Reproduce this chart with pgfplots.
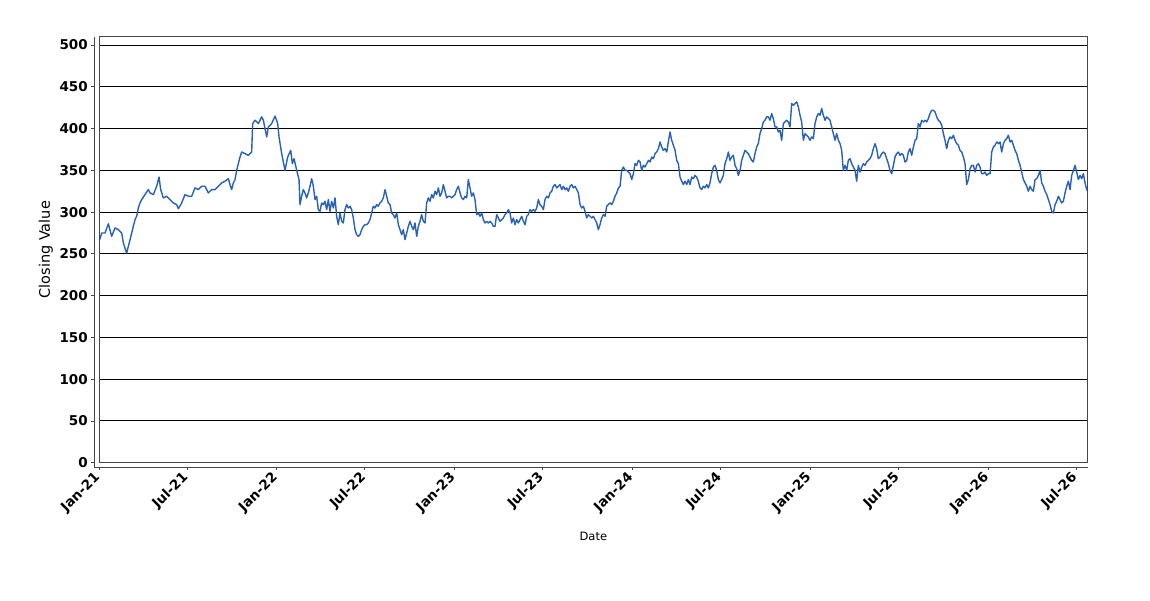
\documentclass[border=0pt]{standalone}
\usepackage{fontspec}
\setmainfont{DejaVu Sans}
\usepackage{pgfplots}
\pgfplotsset{compat=1.18}
\definecolor{series}{RGB}{40,98,182}
\definecolor{axisgray}{RGB}{70,70,70}
\begin{document}
\begin{tikzpicture}
\path[use as bounding box] (0,0) rectangle (1150pt,-600pt);
\begin{axis}[
  at={(99pt,-462.7pt)}, anchor=south west,
  width=988.7pt, height=426pt, scale only axis,
  xmin=0, xmax=2031, ymin=0, ymax=510,
  clip=false,
  axis x line*=bottom, axis y line*=left,
  axis x line shift=4.5pt, axis y line shift=4.7pt,
  axis line style={draw=axisgray, line width=0.8pt, -},
  tick align=outside, major tick length=3pt,
  tick style={draw=axisgray, line width=0.8pt},
  ytick={0,50,...,500},
  xtick={0,181,365,546,730,911,1095,1277,1461,1642,1826,2007},
  xticklabels={Jan-21,Jul-21,Jan-22,Jul-22,Jan-23,Jul-23,Jan-24,Jul-24,Jan-25,Jul-25,Jan-26,Jul-26},
  /pgf/number format/assume math mode=true,
  ticklabel style={font=\fontsize{13.5}{16}\selectfont\bfseries},
  xticklabel style={rotate=45, anchor=east, inner sep=1.5pt},
  xticklabel shift=4pt,
  ymajorgrids, grid style={black, line width=0.9pt},
  xlabel={Date},
  xlabel style={at={([yshift=-73.3pt]axis description cs:0.5,0)}, anchor=center, font=\fontsize{11.5}{13}\selectfont},
  ylabel={Closing Value},
  ylabel style={at={([xshift=-53pt]axis description cs:0,0.5)}, anchor=center, font=\fontsize{14.5}{16}\selectfont},
]
\addplot[series, line width=1.4pt, line join=round] coordinates {
(0,267) (2,268) (5.5,275) (12.3,275) (19.2,286) (26,271) (32.9,281) (39.7,279) (46.6,275) (50,263) (56.8,251) (60.3,259) (63.7,267) (70.5,283) (74,291) (77.4,295) (80.8,305) (84.2,311) (87.7,315) (94.5,321) (101.4,327) (104.8,323) (111.6,321) (118.5,331) (123.3,342) (126.7,327) (132.2,317) (139,319) (145.9,315) (152.7,311) (159.5,309) (163,304) (169.8,311) (176.7,321) (183.5,319) (190.4,319) (197.2,329) (204.1,327) (210.9,331) (217.8,331) (224.6,323) (231.5,327) (238.3,327) (245.2,331) (252,335) (258.9,337) (265.7,340) (269.1,333) (272.5,327) (276,335) (279.4,339) (282.8,350) (286.2,358) (289.7,366) (293.1,372) (300,370) (306.8,368) (313.6,372) (315.7,406) (320.5,410) (327.3,406) (334.2,414) (337.6,410) (344.5,390) (347.9,402) (354.7,406) (361.6,415) (367.1,406) (369.8,390) (375.3,370) (382.1,350) (387.6,366) (393.8,374) (397.2,358) (400.6,364) (406.1,350) (410.9,339)
(412.9,309) (416.3,319) (419.7,327) (423.1,323) (426.6,317) (430,323) (433.4,331) (436.8,340) (440.3,331) (443.7,315) (447.1,319) (450.5,303) (454,301) (457.4,311) (460.8,309) (464.2,313) (467.7,303) (471.1,315) (474.5,301) (477.9,313) (481.4,305) (484.8,317) (488.2,295) (491.6,285) (495.1,299) (498.5,289) (501.9,287) (505.3,303) (508.7,309) (512.2,305) (515.6,307) (519,303) (522.4,293) (525.9,279) (529.3,273) (532.7,271) (536.1,273) (539.6,279) (543,283) (546.4,285) (549.8,285) (553.3,287) (556.7,291) (560.1,299) (563.5,307) (567,305) (570.4,309) (573.8,307) (577.2,311) (580.6,313) (584.1,317) (587.5,327) (590.9,319) (594.3,311) (597.8,309) (601.2,299) (604.6,297) (608,293) (611.5,299) (614.9,285) (618.3,279) (621.7,273) (625.2,279) (628.6,267) (632,275) (635.4,283) (638.9,289) (642.3,283) (645.7,279) (649.1,287) (652.6,271) (656,283) (659.4,289) (662.8,297) (666.2,289) (669.7,287) (673.1,311) (676.5,317) (679.9,313) (683.4,321) (686.8,317) (690.2,325) (693.6,321) (697.1,329) (700.5,319) (703.9,323) (707.3,333) (710.8,325) (714.2,317) (717.6,319) (721,319) (724.5,317) (727.9,319) (731.3,321) (734.7,327) (738.2,331) (741.6,323) (745,317) (748.4,315) (751.8,319) (755.3,317) (758.7,339) (762.1,329) (765.5,319) (769,323) (772.4,315) (775.8,297) (779.2,299) (782.7,295) (786.1,299) (789.5,291) (792.9,287) (796.4,289) (799.8,287) (803.2,289) (806.6,287) (810.1,283)
(813.5,283) (816.9,297) (820.3,293) (823.8,289) (827.2,291) (830.6,293) (834,297) (837.5,299) (840.9,303) (844.3,299) (847.7,287) (851.2,293) (854.6,285) (858,291) (861.4,287) (864.9,291) (868.3,295) (871.7,289) (875.1,285) (878.6,295) (882,297) (885.4,303) (888.8,301) (892.3,303) (895.7,301) (899.1,305) (902.5,315) (905.9,309) (909.4,307) (912.8,303) (916.2,315) (919.6,319) (923.1,317) (926.5,323) (929.9,325) (933.3,331) (936.8,333) (940.2,329) (943.6,331) (947,333) (950.5,327) (953.9,331) (957.3,327) (960.7,329) (964.2,325) (967.6,331) (971,333) (974.4,329) (977.9,331) (981.3,327) (984.7,323) (988.1,309) (991.5,305) (995,307) (998.4,301) (1001.8,293) (1005.2,297) (1008.7,295) (1012.1,293) (1015.5,295) (1018.9,291) (1022.4,287) (1025.8,279) (1029.2,285) (1032.6,293) (1036.1,297) (1039.5,295) (1042.9,307) (1046.3,309) (1049.8,311) (1053.2,309) (1056.6,313) (1060,319) (1063.5,323) (1066.9,329) (1070.3,331) (1073.7,350) (1077.1,354) (1080.6,350) (1084,350) (1087.4,348) (1090.8,346) (1094.3,339) (1097.7,346) (1101.1,358) (1104.5,356) (1108,362) (1111.4,360) (1114.8,350) (1118.2,356) (1121.7,354) (1125.1,358) (1128.5,362) (1131.9,360) (1135.4,366) (1138.8,364) (1142.2,370) (1145.6,372) (1149.1,376) (1152.5,384) (1155.9,378) (1159.3,374) (1162.7,376) (1166.2,372) (1169.6,384) (1173,396) (1176.4,386) (1179.9,380) (1183.3,374) (1186.7,362) (1190.1,358) (1193.6,342) (1197,337) (1200.4,333) (1203.8,337) (1207.3,333) (1210.7,339) (1214.1,333) (1217.5,342) (1221,340)
(1224.3,344) (1227.7,342) (1231.1,337) (1234.6,329) (1238,327) (1241.4,331) (1244.8,329) (1248.3,333) (1251.7,329) (1255.1,335) (1258.5,346) (1262,354) (1265.4,356) (1268.8,350) (1272.2,339) (1275.7,335) (1279.1,339) (1282.5,344) (1285.9,358) (1289.4,364) (1292.8,372) (1296.2,362) (1299.6,366) (1303.1,368) (1306.5,356) (1309.9,352) (1313.3,344) (1316.8,350) (1320.2,362) (1323.6,368) (1327,374) (1330.4,372) (1333.9,370) (1337.3,366) (1340.7,362) (1344.1,360) (1347.6,370) (1351,378) (1354.4,382) (1357.8,394) (1361.3,400) (1364.7,408) (1368.1,410) (1371.5,414) (1375,414) (1378.4,410) (1381.8,418) (1385.2,412) (1388.7,402) (1392.1,402) (1395.5,396) (1398.9,398) (1402.3,386) (1405.8,406) (1409.2,408) (1412.6,410) (1416,408) (1419.5,402) (1422.9,430) (1426.3,428) (1429.7,430) (1433.2,432) (1436.6,426) (1440,416) (1443.4,408) (1446.9,386) (1450.3,394) (1453.7,392) (1457.1,390) (1460.6,386) (1464,390) (1467.4,388) (1470.8,406) (1474.3,414) (1477.7,418) (1481.1,416) (1484.5,424) (1487.9,416) (1491.4,410) (1494.8,414) (1498.2,412) (1501.6,410) (1505.1,402) (1508.5,394) (1511.9,386) (1515.3,394) (1518.8,386) (1522.2,382) (1525.6,374) (1529,350) (1532.5,356) (1535.9,350) (1539.3,362) (1542.7,364) (1546.2,358) (1549.6,354) (1553,350) (1556.4,337) (1559.8,356) (1563.3,348) (1566.7,354) (1570.1,358) (1573.5,356) (1577,360) (1580.4,362) (1583.8,364) (1587.2,368) (1590.7,376) (1594.1,382) (1597.5,376) (1600.9,364) (1604.4,366) (1607.8,370) (1611.2,372) (1614.6,370) (1618.1,364) (1621.5,358) (1624.9,350) (1628.3,346) (1631.8,356)
(1635.2,366) (1638.6,370) (1642,372) (1645.5,368) (1648.9,370) (1652.3,368) (1655.7,360) (1659.2,362) (1662.6,372) (1666,376) (1669.4,368) (1672.9,378) (1676.3,386) (1679.7,388) (1683.1,406) (1686.6,402) (1690,410) (1693.4,408) (1696.8,410) (1700.3,408) (1703.7,412) (1707.1,418) (1710.5,422) (1714,422) (1717.4,420) (1720.8,414) (1724.2,410) (1727.7,408) (1731.1,404) (1734.5,394) (1737.9,386) (1741.3,376) (1744.8,386) (1748.2,390) (1751.6,388) (1755,392) (1758.5,386) (1761.9,382) (1765.3,380) (1768.7,374) (1772.2,372) (1775.6,366) (1779,358) (1782.4,333) (1785.9,339) (1789.3,352) (1792.7,356) (1796.1,356) (1799.6,348) (1803,356) (1806.4,358) (1809.8,354) (1813.2,346) (1816.7,346) (1820.1,348) (1823.5,344) (1826.9,346) (1830.4,346) (1833.8,372) (1837.2,378) (1840.6,380) (1844.1,384) (1847.5,382) (1850.9,384) (1854.3,372) (1857.8,382) (1861.2,386) (1864.6,388) (1868,392) (1871.5,384) (1874.9,386) (1878.3,380) (1881.7,374) (1885.2,370) (1888.6,362) (1892,356) (1895.4,348) (1898.8,339) (1902.3,335) (1905.7,331) (1909.1,325) (1912.5,331) (1916,327) (1919.4,325) (1922.8,339) (1926.2,340) (1929.7,344) (1933.1,350) (1936.5,335) (1939.9,331) (1943.4,325) (1946.8,321) (1950.2,315) (1953.6,309) (1957.1,301) (1960.5,299) (1963.9,309) (1967.3,313) (1970.7,319) (1974.2,315) (1977.6,311) (1981,313) (1984.4,323) (1987.9,331) (1991.3,337) (1994.7,327) (1998.1,344) (2001.6,350) (2005,356) (2008.4,348) (2011.8,339) (2015.3,344) (2018.7,340) (2022.1,346) (2025.5,335) (2029,327) (2031,325)
};
\draw[axisgray, line width=0.8pt] (rel axis cs:0,0) rectangle (rel axis cs:1,1);
\draw[axisgray, line width=0.8pt] ([xshift=-4.7pt]rel axis cs:0,0) -- ([xshift=-4.7pt,yshift=-4.5pt]rel axis cs:0,0) -- ([yshift=-4.5pt]rel axis cs:0,0);
\end{axis}
\end{tikzpicture}
\end{document}
